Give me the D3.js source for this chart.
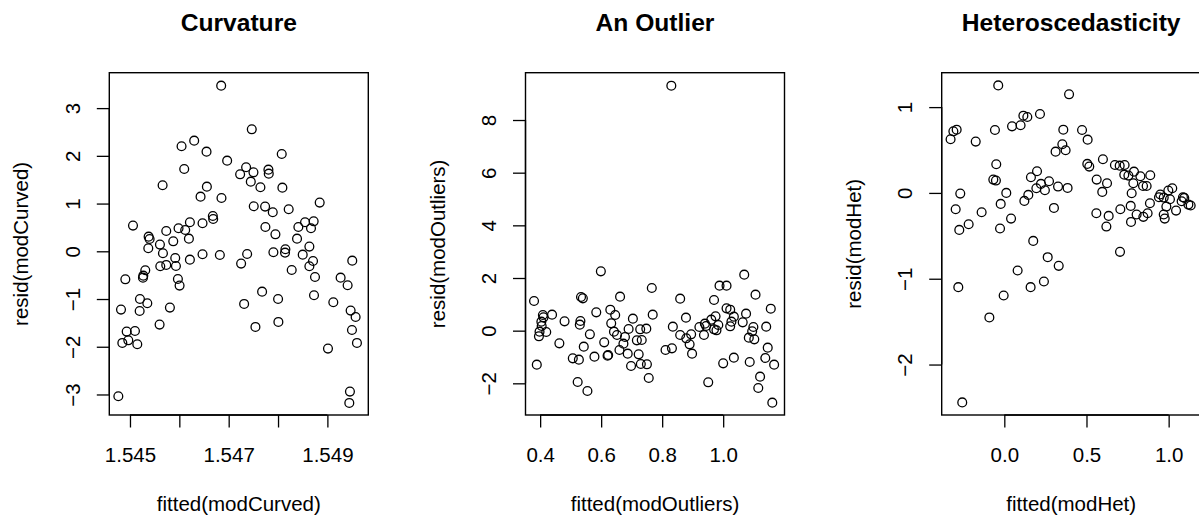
<!DOCTYPE html>
<html><head><meta charset="utf-8">
<script src="https://cdn.jsdelivr.net/npm/d3@7"></script>
<style>body{margin:0;background:#fff}svg{display:block}text{font-family:"Liberation Sans",Arial,Helvetica,sans-serif;fill:#000}</style>
</head><body><svg id="c" width="1199" height="518"></svg>
<script>
// ---------- data ----------
const curvedX = [1.546848,1.547468,1.546045,1.546301,1.546551,1.548075,1.546969,1.546099,1.547232,1.547353,1.547502,1.547805,1.547812,1.547448,1.547643,1.548088,1.545661,1.546558,1.546430,1.546854,1.547508,1.547738,1.547893,1.548216,1.548844,1.545061,1.546679,1.546686,1.546214,1.546470,1.545984,1.546119,1.545735,1.547744,1.547947,1.548412,1.548547,1.548722,1.548668,1.545378,1.545398,1.546194,1.545877,1.545607,1.545371,1.548385,1.548149,1.548142,1.548635,1.545668,1.546470,1.546821,1.547374,1.547906,1.548500,1.545917,1.546214,1.547252,1.545614,1.545735,1.545931,1.548709,1.548635,1.548277,1.545310,1.545270,1.545263,1.544906,1.545971,1.546005,1.548749,1.549268,1.549410,1.549504,1.547677,1.548001,1.545202,1.545351,1.545196,1.544818,1.545809,1.547313,1.548729,1.549120,1.549471,1.549572,1.545600,1.547542,1.548007,1.544933,1.545101,1.544845,1.544966,1.545148,1.549498,1.549599,1.549012,1.544764,1.549457,1.549444];
const curvedY = [3.471,2.556,2.200,2.318,2.088,2.039,1.899,1.725,1.613,1.760,1.655,1.711,1.627,1.459,1.341,1.334,1.383,1.355,1.145,1.117,0.943,0.936,0.817,0.880,1.020,0.538,0.740,0.677,0.608,0.587,0.482,0.447,0.426,0.510,0.356,0.510,0.608,0.628,0.482,0.307,0.258,0.265,0.209,0.140,0.063,0.265,0.042,-0.028,0.098,-0.042,-0.063,-0.077,-0.056,-0.021,-0.070,-0.140,-0.175,-0.258,-0.314,-0.286,-0.307,-0.203,-0.314,-0.391,-0.398,-0.510,-0.552,-0.587,-0.580,-0.719,-0.538,-0.552,-0.712,-0.196,-0.845,-0.999,-0.999,-1.089,-1.250,-1.222,-1.180,-1.103,-0.922,-1.068,-1.243,-1.376,-1.536,-1.585,-1.480,-1.683,-1.669,-1.920,-1.865,-1.948,-1.648,-1.920,-2.039,-3.038,-2.940,-3.177];

const outlierX = [0.830,0.599,1.069,0.766,0.988,1.011,0.380,0.534,0.540,0.662,0.859,0.970,1.106,1.156,0.409,0.411,0.439,0.584,0.630,0.646,0.769,0.878,1.011,1.023,1.035,1.075,0.532,0.530,0.480,0.404,0.405,0.633,0.704,0.690,0.728,0.748,0.835,0.922,0.940,0.944,0.961,0.975,0.984,0.978,1.027,1.023,1.064,1.099,1.141,0.398,0.396,0.420,0.563,0.642,0.652,0.678,0.859,0.895,0.879,0.937,0.970,1.095,1.084,1.102,0.717,0.733,0.463,0.610,0.673,0.890,0.543,1.146,0.811,0.832,0.660,0.687,0.723,0.898,0.507,0.527,0.578,0.621,0.623,1.035,1.138,0.389,0.698,0.730,0.750,1.000,1.087,1.167,0.756,0.523,0.951,1.121,0.555,1.115,1.161];
const outlierY = [9.304,2.253,2.127,1.620,1.709,1.709,1.127,1.278,1.228,1.291,1.215,1.165,1.367,0.835,0.595,0.506,0.608,0.696,0.797,0.595,0.608,0.494,0.848,0.797,0.532,0.646,0.367,0.228,0.354,0.342,0.177,0.278,0.456,0.063,0.051,0.076,0.152,0.139,0.266,0.177,0.418,0.544,0.215,0.013,0.342,0.165,0.316,0.139,0.152,-0.038,-0.215,-0.051,-0.139,-0.038,-0.165,-0.241,-0.165,-0.139,-0.291,-0.165,0.051,-0.025,-0.266,-0.329,-0.367,-0.354,-0.481,-0.443,-0.494,-0.519,-0.608,-0.646,-0.734,-0.671,-0.734,-0.873,-0.899,-0.873,-1.051,-1.101,-0.987,-0.949,-0.924,-1.025,-1.038,-1.291,-1.342,-1.266,-1.278,-1.241,-1.190,-1.291,-1.797,-1.949,-1.962,-1.747,-2.291,-2.177,-2.734];

const hetX = [-0.037,0.394,0.217,0.116,0.140,0.047,0.099,-0.057,0.359,0.473,-0.310,-0.290,-0.327,-0.174,0.507,0.353,0.373,0.312,-0.049,0.505,0.517,0.600,0.673,0.702,0.732,0.789,0.730,0.755,0.828,0.888,0.199,0.162,-0.067,-0.051,0.562,0.625,0.785,0.272,0.223,0.195,0.247,0.327,0.385,0.844,0.866,0.012,-0.268,0.596,0.775,1.022,0.998,0.949,0.970,0.941,1.008,1.087,1.095,0.146,0.122,-0.022,0.886,1.079,1.120,1.134,0.302,-0.296,-0.138,0.706,0.769,0.986,1.045,0.560,0.635,0.805,0.846,0.872,0.970,0.041,0.976,0.771,-0.217,-0.274,-0.026,0.621,0.176,0.704,0.264,0.331,0.081,0.241,0.160,-0.280,-0.004,-0.091,-0.256];
const hetY = [1.253,1.149,0.920,0.900,0.885,0.776,0.788,0.733,0.737,0.733,0.718,0.737,0.625,0.598,0.621,0.567,0.497,0.481,0.334,0.338,0.307,0.392,0.326,0.318,0.326,0.248,0.213,0.202,0.194,0.206,0.252,0.182,0.155,0.144,0.155,0.113,0.113,0.136,0.105,0.054,0.031,0.074,0.058,0.081,0.081,0.000,-0.008,0.012,-0.004,0.054,0.027,-0.019,-0.054,-0.050,-0.074,-0.050,-0.058,-0.023,-0.093,-0.128,-0.120,-0.097,-0.136,-0.147,-0.175,-0.190,-0.225,-0.190,-0.151,-0.159,-0.206,-0.237,-0.268,-0.252,-0.279,-0.237,-0.252,-0.299,-0.299,-0.338,-0.365,-0.431,-0.415,-0.392,-0.559,-0.687,-0.749,-0.850,-0.904,-1.032,-1.098,-1.098,-1.195,-1.451,-2.441];

const curvedXTicks = [1.545,1.546,1.547,1.548,1.549];
const curvedXLabels = ["1.545","","1.547","","1.549"];
const curvedYTicks = [-3,-2,-1,0,1,2,3];
const outlierXTicks = [0.4,0.6,0.8,1.0];
const outlierXLabels = ["0.4","0.6","0.8","1.0"];
const outlierYTicks = [-2,0,2,4,6,8];
const hetXTicks = [0.0,0.5,1.0];
const hetXLabels = ["0.0","0.5","1.0"];
const hetYTicks = [-2,-1,0,1];

const titles = ["Curvature","An Outlier","Heteroscedasticity"];
const xLabels = ["fitted(modCurved)","fitted(modOutliers)","fitted(modHet)"];
const yLabels = ["resid(modCurved)","resid(modOutliers)","resid(modHet)"];

// ---------- drawing ----------
const svg = d3.select("#c");
const fmtY = v => (v < 0 ? "\u2212" + Math.abs(v) : String(v));

const panels = [
  {x: curvedX, y: curvedY, xd:[1.544581,1.549829], yd:[-3.430,3.742], xt: curvedXTicks, xl: curvedXLabels, yt: curvedYTicks},
  {x: outlierX, y: outlierY, xd:[0.352,1.201], yd:[-3.203,9.797], xt: outlierXTicks, xl: outlierXLabels, yt: outlierYTicks},
  {x: hetX, y: hetY, xd:[-0.381,1.195], yd:[-2.588,1.401], xt: hetXTicks, xl: hetXLabels, yt: hetYTicks}
];

const PW = 259, PTOP = 72.7, PBOT = 415, FS = 20.5;
panels.forEach((p, i) => {
  const left = 109.3 + 416.2 * i;
  const g = svg.append("g");
  const xs = d3.scaleLinear().domain(p.xd).range([left, left + PW]);
  const ys = d3.scaleLinear().domain(p.yd).range([PBOT, PTOP]);

  // points
  g.append("g").selectAll("circle").data(p.x.map((v, k) => [v, p.y[k]])).join("circle")
    .attr("cx", d => xs(d[0])).attr("cy", d => ys(d[1])).attr("r", 4.4)
    .attr("fill", "none").attr("stroke", "#000").attr("stroke-width", 1.3);

  // x axis
  const xa = d3.axisBottom(xs).tickValues(p.xt).tickSize(12.5).tickFormat((d, k) => p.xl[k]);
  const gx = g.append("g").attr("transform", `translate(0,${PBOT})`).call(xa);
  gx.select(".domain").attr("d", `M${xs(p.xt[0])},0H${xs(p.xt[p.xt.length-1])}`).attr("stroke-width", 1.3);
  gx.selectAll(".tick line").attr("stroke-width", 1.3);
  gx.selectAll(".tick text").attr("y", 0).attr("dy", 0).attr("transform", "translate(0,47)")
    .style("font-size", FS + "px").style("font-family", '"Liberation Sans",Arial,sans-serif');

  // y axis
  const ya = d3.axisLeft(ys).tickValues(p.yt).tickSize(12.5).tickFormat(fmtY);
  const gy = g.append("g").attr("transform", `translate(${left},0)`).call(ya);
  gy.select(".domain").attr("d", `M0,${ys(p.yt[0])}V${ys(p.yt[p.yt.length-1])}`).attr("stroke-width", 1.3);
  gy.selectAll(".tick line").attr("stroke-width", 1.3);
  gy.selectAll(".tick text").attr("x", 0).attr("dy", 0).attr("text-anchor", "middle")
    .attr("transform", "translate(-29.5,0) rotate(-90)")
    .style("font-size", FS + "px").style("font-family", '"Liberation Sans",Arial,sans-serif');

  // box
  g.append("rect").attr("x", left).attr("y", PTOP).attr("width", PW).attr("height", PBOT - PTOP)
    .attr("fill", "none").attr("stroke", "#000").attr("stroke-width", 1.4);

  // labels
  g.append("text").attr("x", left + PW / 2).attr("y", 511).attr("text-anchor", "middle")
    .style("font-size", FS + "px").text(xLabels[i]);
  g.append("text").attr("transform", `translate(${left - 81},${(PTOP + PBOT) / 2}) rotate(-90)`)
    .attr("text-anchor", "middle").style("font-size", FS + "px").text(yLabels[i]);
  g.append("text").attr("x", left + PW / 2).attr("y", 31).attr("text-anchor", "middle")
    .style("font-size", "24.6px").style("font-weight", "bold").text(titles[i]);
});
</script></body></html>
